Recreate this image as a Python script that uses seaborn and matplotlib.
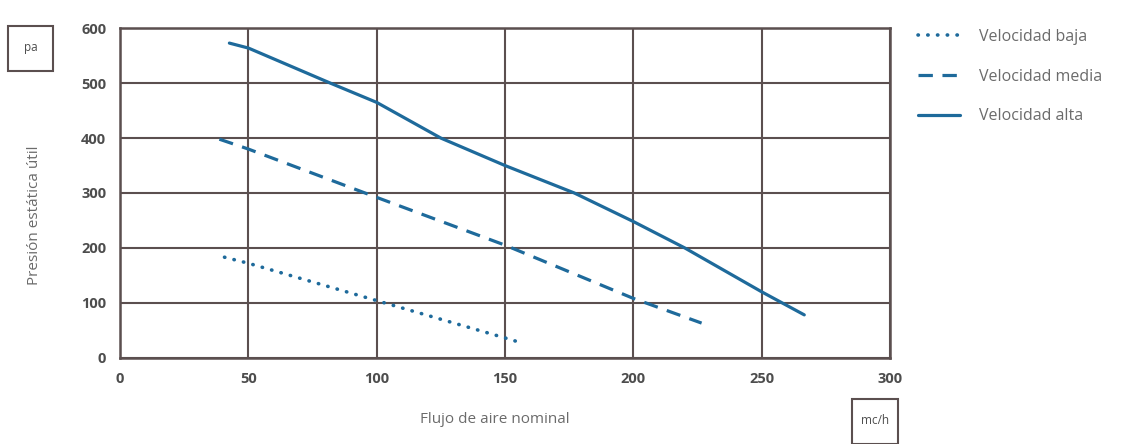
import matplotlib
matplotlib.use('Agg')
import matplotlib.pyplot as plt
import seaborn as sns
from matplotlib.patches import Rectangle

# data
baja_x = [40.7, 50, 100, 150, 155]
baja_y = [183, 172, 104, 36, 29]

media_x = [38.7, 50, 100, 150, 200, 226.6]
media_y = [398, 380, 292, 205, 108, 63]

alta_x = [42.6, 50, 82, 100, 125, 150, 177, 200, 220, 250, 266.6]
alta_y = [573, 564, 500, 465, 400, 350, 300, 248, 200, 120, 78]

x_ticks = [0, 50, 100, 150, 200, 250, 300]
y_ticks = [0, 100, 200, 300, 400, 500, 600]

line_color = '#1e6a9b'
grid_color = '#5b4f4f'
text_color = '#6b6b6b'
tick_color = '#4d4d4d'

sns.set_style('white')
plt.rcParams['font.family'] = ['Open Sans', 'DejaVu Sans']

fig = plt.figure(figsize=(11.23, 4.44), dpi=100)
ax = fig.add_axes([0.1069, 0.1944, 0.6856, 0.7419])

sns.lineplot(x=baja_x, y=baja_y, ax=ax, color=line_color, linewidth=2.6,
             linestyle=(0, (0.1, 2.6)), dash_capstyle='round', label='Velocidad baja')
sns.lineplot(x=media_x, y=media_y, ax=ax, color=line_color, linewidth=2.3,
             linestyle=(0, (4.5, 3.0)), label='Velocidad media')
sns.lineplot(x=alta_x, y=alta_y, ax=ax, color=line_color, linewidth=2.3,
             label='Velocidad alta')

ax.set_xlim(0, 300)
ax.set_ylim(0, 600)
ax.set_xticks(x_ticks)
ax.set_yticks(y_ticks)
ax.set_xticklabels([str(t) for t in x_ticks], fontsize=10.5, fontweight='bold', color=tick_color)
ax.set_yticklabels([str(t) for t in y_ticks], fontsize=10.5, fontweight='bold', color=tick_color)
ax.tick_params(length=0, pad=10)
ax.grid(True, color=grid_color, linewidth=1.5)
ax.set_axisbelow(True)
for s in ax.spines.values():
    s.set_visible(True)
    s.set_color(grid_color)
    s.set_linewidth(1.8)

ax.set_xlabel('')
ax.set_ylabel('')

handles, labels = ax.get_legend_handles_labels()
ax.get_legend().remove()
fig.legend(handles, labels, loc='upper left', bbox_to_anchor=(0.805, 0.968),
           frameon=False, fontsize=11.5, labelcolor=text_color, handlelength=2.6,
           handletextpad=1.2, labelspacing=1.5)

fig.text(35 / 1123, 1 - 215 / 444, 'Presión estática útil', rotation=90,
         ha='center', va='center', fontsize=11, color=text_color)
fig.text(495 / 1123, 1 - 419 / 444, 'Flujo de aire nominal',
         ha='center', va='center', fontsize=11, color=text_color)

# unit boxes
fig.patches.append(Rectangle((8 / 1123, 1 - 71 / 444), 45 / 1123, 45 / 444,
                             transform=fig.transFigure, fill=False,
                             edgecolor=grid_color, linewidth=1.5))
fig.text(30.5 / 1123, 1 - 47 / 444, 'pa', ha='center', va='center',
         fontsize=8.5, color=tick_color)
fig.patches.append(Rectangle((852 / 1123, 1 - 444 / 444), 46 / 1123, 45 / 444,
                             transform=fig.transFigure, fill=False,
                             edgecolor=grid_color, linewidth=1.5))
fig.text(875 / 1123, 1 - 420 / 444, 'mc/h', ha='center', va='center',
         fontsize=8.5, color=tick_color)

fig.savefig('out.png', dpi=100)
